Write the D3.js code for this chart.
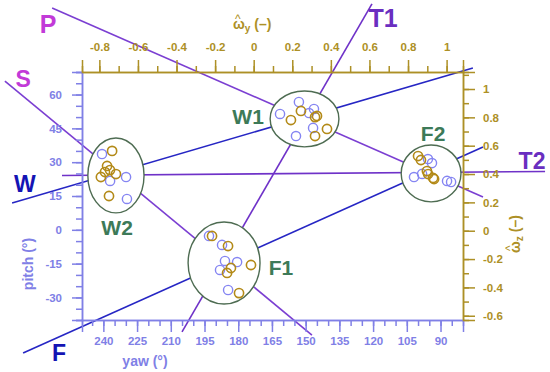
<!DOCTYPE html>
<html>
<head>
<meta charset="utf-8">
<title>yaw / pitch clusters</title>
<script src="https://cdn.jsdelivr.net/npm/d3@7"></script>
<style>
  body { margin: 0; background: #fff; }
  svg { font-family: "Liberation Sans", Arial, sans-serif; font-weight: bold; }
</style>
</head>
<body>
<svg id="chart" width="550" height="372"></svg>
<script>
// ---- data ----
var yawTicks   = [240, 225, 210, 195, 180, 165, 150, 135, 120, 105, 90];
var pitchTicks = [-30, -15, 0, 15, 30, 45, 60];
var wyTicks    = [-0.8, -0.6, -0.4, -0.2, 0, 0.2, 0.4, 0.6, 0.8, 1];
var wzTicks    = [-0.6, -0.4, -0.2, 0, 0.2, 0.4, 0.6, 0.8, 1];

// blue markers: yaw (deg), pitch (deg)
var blueYaw   = [240.6, 229.9, 237.0, 229.5,
                 193.0, 187.2, 185.9, 180.5, 188.1, 184.5,
                 153.0, 161.4, 148.5, 146.3, 146.7, 154.3,
                 95.6, 93.8, 101.8, 98.2, 87.1, 85.3];
var bluePitch = [33.6, 23.4, 21.7, 13.7,
                 -2.7, -6.7, -13.8, -14.3, -17.8, -26.7,
                 56.7, 51.4, 51.8, 53.6, 45.2, 41.6,
                 31.4, 29.6, 23.4, 24.8, 21.7, 21.2];

// gold markers: omega_y, omega_z (-)
var goldWy = [-0.734, -0.760, -0.771, -0.792, -0.714, -0.745, -0.750,
              -0.216, -0.133, -0.014, -0.118, -0.138, -0.076,
              0.245, 0.193, 0.318, 0.328, 0.380, 0.318,
              0.852, 0.867, 0.898, 0.904, 0.930, 0.935];
var goldWz = [0.563, 0.457, 0.414, 0.379, 0.400, 0.428, 0.245,
              -0.037, -0.108, -0.242, -0.263, -0.298, -0.440,
              0.845, 0.781, 0.802, 0.810, 0.718, 0.668,
              0.527, 0.499, 0.421, 0.400, 0.372, 0.365];

// clusters (ellipses) in yaw/pitch
var clusterNames  = ["W2", "W1", "F1", "F2"];
var clusterYaw    = [234.4, 150.5, 186.3, 94.2];
var clusterPitch  = [24.1, 49.2, -14.7, 25.0];
var clusterRYaw   = [12.5, 15.3, 16.0, 13.3];
var clusterRPitch = [16.6, 12.4, 18.2, 12.6];
var clusterLabelYaw   = [233.9, 175.6, 161.0, 93.3];
var clusterLabelPitch = [1.2, 50.5, -16.9, 42.9];

// guide lines, end points in yaw/pitch
var lineNames  = ["P", "S", "W", "F", "T1", "T2"];
var lineYaw0   = [262.8, 283.8, 280.6, 275.7, 120.5, 258.4];
var linePitch0 = [98.4, 66.0, 11.9, -54.6, 100.2, 24.1];
var lineYaw1   = [71.1, 147.2, 75.6, 71.1, 205.0, 43.5];
var linePitch1 = [14.6, -46.7, 71.8, 36.7, -45.3, 25.9];
var lineLabelYaw   = [264.6, 275.7, 274.9, 259.7, 115.6, 49.3];
var lineLabelPitch = [91.3, 66.9, 20.3, -54.6, 94.0, 30.5];

// ---- layout ----
var L = 82, R = 463, T = 72, B = 320;
var blueC = "#8080e6", goldC = "#ad9026";
var lineCol = { P: "#7b3fd2", S: "#7b3fd2", T1: "#6f32c8", T2: "#6f32c8", W: "#2626c4", F: "#2626c4" };
var lblCol  = { P: "#c23ad8", S: "#c23ad8", T1: "#6a2ec0", T2: "#6a2ec0", W: "#1414b4", F: "#1414b4" };

var svg = d3.select("#chart");

var x  = d3.scaleLinear().domain([249.5, 80]).range([L, R]);
var y  = d3.scaleLinear().domain([-40, 70]).range([B, T]);
var xw = d3.scaleLinear().domain([-0.89, 1.085]).range([L, R]);
var yw = d3.scaleLinear().domain([-0.63, 1.12]).range([B, T]);

// guide lines first, ellipses cover them
svg.append("g").selectAll("line").data(lineNames).enter().append("line")
  .attr("x1", function (d, i) { return x(lineYaw0[i]); })
  .attr("y1", function (d, i) { return y(linePitch0[i]); })
  .attr("x2", function (d, i) { return x(lineYaw1[i]); })
  .attr("y2", function (d, i) { return y(linePitch1[i]); })
  .attr("stroke", function (d) { return lineCol[d]; })
  .attr("stroke-width", 1.6);

svg.append("g").selectAll("text").data(lineNames).enter().append("text")
  .attr("x", function (d, i) { return x(lineLabelYaw[i]); })
  .attr("y", function (d, i) { return y(lineLabelPitch[i]); })
  .attr("dy", "0.36em")
  .attr("text-anchor", "middle")
  .attr("font-size", function (d) { return (d == "P" || d == "T1") ? 25 : 23; })
  .attr("fill", function (d) { return lblCol[d]; })
  .text(function (d) { return d; });

// axes
function styleAxis(g, col) {
  g.select(".domain").attr("stroke", col).attr("stroke-width", 1.5);
  g.selectAll(".tick line").attr("stroke", col).attr("stroke-width", 1.5);
  g.selectAll(".tick text").attr("fill", col).attr("font-size", 11.5)
    .attr("font-family", "Liberation Sans, Arial, sans-serif").attr("font-weight", "bold");
}
function fmt(d) { return String(d); }

// minor ticks
var gm = svg.append("g");
gm.append("g").attr("transform", "translate(0," + B + ")")
  .call(d3.axisBottom(x).tickValues(d3.range(85, 250, 5)).tickSize(6).tickFormat(""))
  .call(styleAxis, blueC);
gm.append("g").attr("transform", "translate(" + L + ",0)")
  .call(d3.axisLeft(y).tickValues(d3.range(-40, 71, 5)).tickSize(6).tickFormat(""))
  .call(styleAxis, blueC);
gm.append("g").attr("transform", "translate(0," + T + ")")
  .call(d3.axisTop(xw).tickValues(d3.range(-8, 11).map(function (v) { return v / 10; })).tickSize(6).tickFormat(""))
  .call(styleAxis, goldC);
gm.append("g").attr("transform", "translate(" + R + ",0)")
  .call(d3.axisRight(yw).tickValues(d3.range(-6, 12).map(function (v) { return v / 10; })).tickSize(6).tickFormat(""))
  .call(styleAxis, goldC);

// major ticks + labels
svg.append("g").attr("transform", "translate(0," + B + ")")
  .call(d3.axisBottom(x).tickValues(yawTicks).tickSize(12).tickPadding(5).tickFormat(fmt))
  .call(styleAxis, blueC);
svg.append("g").attr("transform", "translate(" + L + ",0)")
  .call(d3.axisLeft(y).tickValues(pitchTicks).tickSize(10).tickPadding(10).tickFormat(fmt))
  .call(styleAxis, blueC);
svg.append("g").attr("transform", "translate(0," + T + ")")
  .call(d3.axisTop(xw).tickValues(wyTicks).tickSize(12).tickPadding(9).tickFormat(fmt))
  .call(styleAxis, goldC);
svg.append("g").attr("transform", "translate(" + R + ",0)")
  .call(d3.axisRight(yw).tickValues(wzTicks).tickSize(12).tickPadding(8).tickFormat(fmt))
  .call(styleAxis, goldC);

// axis titles
svg.append("text").attr("x", 145).attr("y", 366).attr("text-anchor", "middle")
  .attr("font-size", 14).attr("fill", blueC).text("yaw (°)");
svg.append("text").attr("transform", "translate(33,264) rotate(-90)").attr("text-anchor", "middle")
  .attr("font-size", 14).attr("fill", blueC).text("pitch (°)");

// omega-hat titles: hat drawn as its own glyph above the omega
function omegaTitle(g, sub) {
  var t = g.append("text").attr("x", 0).attr("y", 0).attr("font-size", 14).attr("fill", goldC);
  t.append("tspan").text("ω");
  t.append("tspan").attr("font-size", 10).attr("dy", 3).text(sub);
  t.append("tspan").attr("dy", -3).text(" (–)");
  g.append("text").attr("x", 4.8).attr("y", -6).attr("text-anchor", "middle")
    .attr("font-size", 12).attr("font-weight", "normal").attr("fill", goldC).text("^");
}
omegaTitle(svg.append("g").attr("transform", "translate(233,29)"), "y");
omegaTitle(svg.append("g").attr("transform", "translate(520,253) rotate(-90)"), "z");

// cluster ellipses
svg.append("g").selectAll("ellipse").data(clusterNames).enter().append("ellipse")
  .attr("cx", function (d, i) { return x(clusterYaw[i]); })
  .attr("cy", function (d, i) { return y(clusterPitch[i]); })
  .attr("rx", function (d, i) { return Math.abs(x(clusterYaw[i] - clusterRYaw[i]) - x(clusterYaw[i])); })
  .attr("ry", function (d, i) { return Math.abs(y(clusterPitch[i] + clusterRPitch[i]) - y(clusterPitch[i])); })
  .attr("fill", "#fff")
  .attr("stroke", "#4e6c52")
  .attr("stroke-width", 1.4);

svg.append("g").selectAll("text").data(clusterNames).enter().append("text")
  .attr("x", function (d, i) { return x(clusterLabelYaw[i]); })
  .attr("y", function (d, i) { return y(clusterLabelPitch[i]); })
  .attr("dy", "0.36em")
  .attr("text-anchor", "middle")
  .attr("font-size", 21)
  .attr("fill", "#3d7a58")
  .text(function (d) { return d; });

// markers
svg.append("g").selectAll("circle").data(blueYaw).enter().append("circle")
  .attr("cx", function (d) { return x(d); })
  .attr("cy", function (d, i) { return y(bluePitch[i]); })
  .attr("r", 4.6)
  .attr("fill", "none")
  .attr("stroke", "#8585f2")
  .attr("stroke-width", 1.4);

svg.append("g").selectAll("circle").data(goldWy).enter().append("circle")
  .attr("cx", function (d) { return xw(d); })
  .attr("cy", function (d, i) { return yw(goldWz[i]); })
  .attr("r", 4.6)
  .attr("fill", "none")
  .attr("stroke", "#b38a18")
  .attr("stroke-width", 1.6);
</script>
</body>
</html>
